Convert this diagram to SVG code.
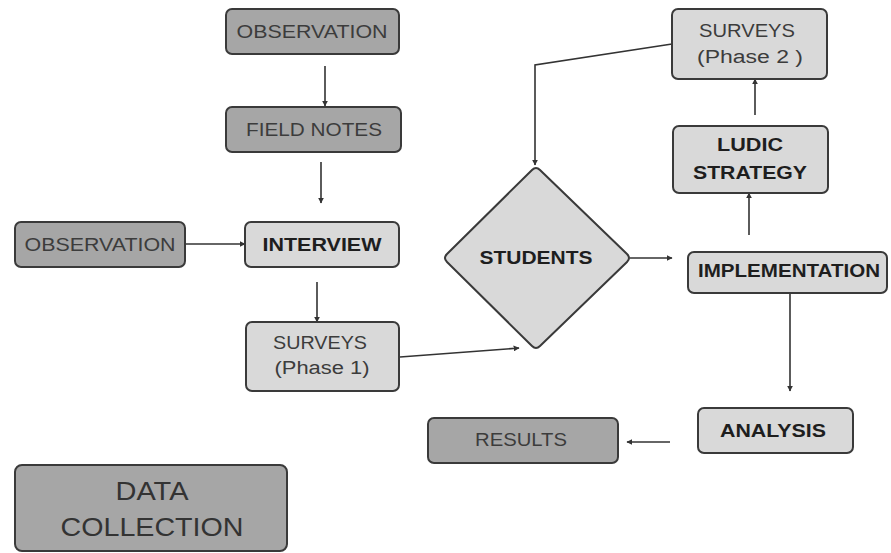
<svg xmlns="http://www.w3.org/2000/svg" width="891" height="553" viewBox="0 0 891 553">
<style>
.box{stroke:#3a3a3a;stroke-width:2;}
.dark{fill:#a6a6a6;}
.light{fill:#d9d9d9;}
.t{font-family:"Liberation Sans",Arial,sans-serif;font-size:18px;fill:#3c3c3c;text-anchor:middle;dominant-baseline:central;}
.b{font-weight:bold;fill:#1e1e1e;}
.big{font-size:25px;fill:#333;}
.c{fill:none;stroke:#333;stroke-width:1.6;}
</style>
<defs>
<marker id="ah" viewBox="0 0 10 10" refX="9" refY="5" markerWidth="6" markerHeight="6" markerUnits="userSpaceOnUse" orient="auto">
<path d="M0,0 L10,5 L0,10 z" fill="#333"/>
</marker>
</defs>
<rect width="891" height="553" fill="#ffffff"/>

<g id="connectors">
<line class="c" x1="325" y1="66" x2="325" y2="106" marker-end="url(#ah)"/>
<line class="c" x1="321" y1="162" x2="321" y2="203" marker-end="url(#ah)"/>
<line class="c" x1="185" y1="244" x2="245" y2="244" marker-end="url(#ah)"/>
<line class="c" x1="317" y1="282" x2="317" y2="322" marker-end="url(#ah)"/>
<line class="c" x1="400" y1="357" x2="519" y2="348" marker-end="url(#ah)"/>
<polyline class="c" points="672,44 535,65 535,165" marker-end="url(#ah)"/>
<line class="c" x1="630" y1="258" x2="672" y2="258" marker-end="url(#ah)"/>
<line class="c" x1="749" y1="235" x2="749" y2="193" marker-end="url(#ah)"/>
<line class="c" x1="755" y1="115" x2="755" y2="79" marker-end="url(#ah)"/>
<line class="c" x1="790" y1="293" x2="790" y2="391" marker-end="url(#ah)"/>
<line class="c" x1="670" y1="442" x2="627" y2="442" stroke-width="2.5" marker-end="url(#ah)"/>
</g>

<g id="observation-top">
<rect class="box dark" x="226" y="9" width="173" height="45" rx="6"/>
<text class="t" x="312" y="31.5" textLength="151" lengthAdjust="spacingAndGlyphs">OBSERVATION</text>
</g>
<g id="field-notes">
<rect class="box dark" x="226" y="107" width="175" height="45" rx="6"/>
<text class="t" x="314" y="129.5" textLength="136" lengthAdjust="spacingAndGlyphs">FIELD NOTES</text>
</g>
<g id="observation-left">
<rect class="box dark" x="15" y="222" width="170" height="45" rx="6"/>
<text class="t" x="100" y="244.5" textLength="151" lengthAdjust="spacingAndGlyphs">OBSERVATION</text>
</g>
<g id="interview">
<rect class="box light" x="245" y="222" width="154" height="45" rx="6"/>
<text class="t b" x="322" y="244.5" textLength="119" lengthAdjust="spacingAndGlyphs">INTERVIEW</text>
</g>
<g id="surveys-phase1">
<rect class="box light" x="246" y="322" width="153" height="69" rx="6"/>
<text class="t" x="320" y="343" textLength="94" lengthAdjust="spacingAndGlyphs">SURVEYS</text>
<text class="t" x="322" y="368" textLength="95" lengthAdjust="spacingAndGlyphs">(Phase 1)</text>
</g>
<g id="students">
<path class="box light" d="M532,170 Q536,166 540,170 L627,254 Q631,258 627,262 L540,346 Q536,350 532,346 L447,262 Q443,258 447,254 Z"/>
<text class="t b" x="536" y="258" textLength="113" lengthAdjust="spacingAndGlyphs">STUDENTS</text>
</g>
<g id="surveys-phase2">
<rect class="box light" x="672" y="9" width="155" height="70" rx="6"/>
<text class="t" x="747" y="31" textLength="96" lengthAdjust="spacingAndGlyphs">SURVEYS</text>
<text class="t" x="750" y="57" textLength="106" lengthAdjust="spacingAndGlyphs">(Phase 2 )</text>
</g>
<g id="ludic-strategy">
<rect class="box light" x="673" y="126" width="155" height="67" rx="6"/>
<text class="t b" x="750" y="145" textLength="66" lengthAdjust="spacingAndGlyphs">LUDIC</text>
<text class="t b" x="750" y="173" textLength="114" lengthAdjust="spacingAndGlyphs">STRATEGY</text>
</g>
<g id="implementation">
<rect class="box light" x="688" y="252" width="199" height="41" rx="6"/>
<text class="t b" x="789" y="271" textLength="182" lengthAdjust="spacingAndGlyphs">IMPLEMENTATION</text>
</g>
<g id="analysis">
<rect class="box light" x="698" y="408" width="155" height="45" rx="6"/>
<text class="t b" x="773" y="430.5" textLength="106" lengthAdjust="spacingAndGlyphs">ANALYSIS</text>
</g>
<g id="results">
<rect class="box dark" x="428" y="418" width="190" height="45" rx="6"/>
<text class="t" x="521" y="439.5" textLength="92" lengthAdjust="spacingAndGlyphs">RESULTS</text>
</g>
<g id="data-collection">
<rect class="box dark" x="15" y="465" width="272" height="86" rx="7"/>
<text class="t big" x="152" y="491" textLength="73" lengthAdjust="spacingAndGlyphs">DATA</text>
<text class="t big" x="152" y="527" textLength="183" lengthAdjust="spacingAndGlyphs">COLLECTION</text>
</g>
</svg>
